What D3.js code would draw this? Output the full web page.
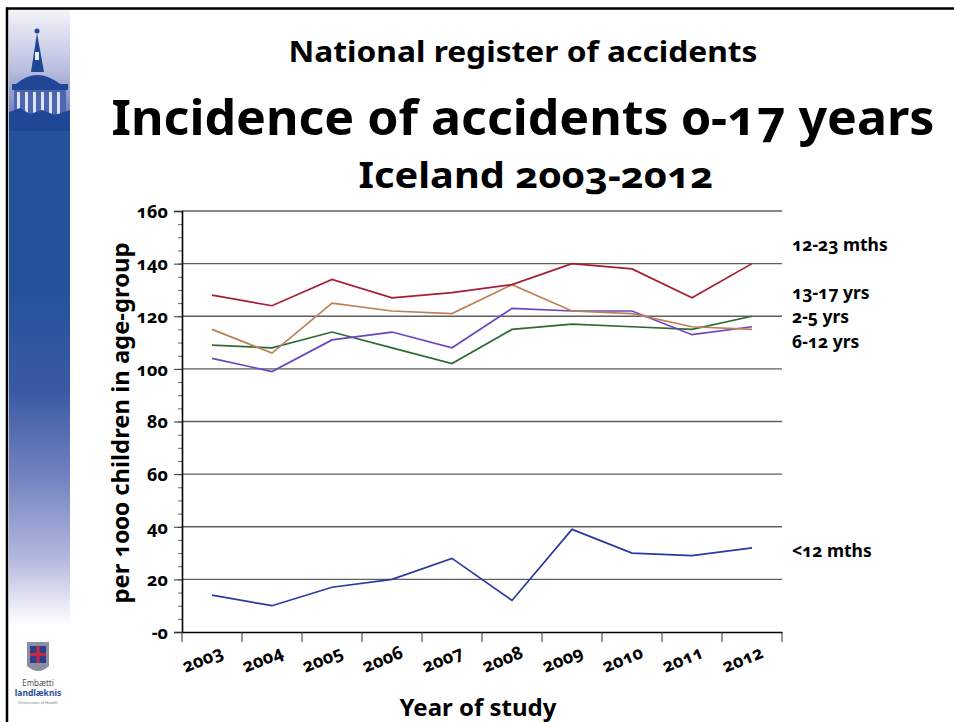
<!DOCTYPE html>
<html><head><meta charset="utf-8">
<script src="https://cdn.jsdelivr.net/npm/d3@7"></script>
<style>
body{margin:0;background:#fff}
svg{display:block}
text{font-family:"Noto Sans",sans-serif;font-weight:bold;font-variant-numeric:oldstyle-nums;font-feature-settings:"onum" 1}
</style>
</head><body>
<svg id="c" width="954" height="722"></svg>
<script>
// ---------- data ----------
const years = ["2003","2004","2005","2006","2007","2008","2009","2010","2011","2012"];
const seriesNames = ["<12 mths","2-5 yrs","6-12 yrs","13-17 yrs","12-23 mths"];
const lt12mths   = [14,10,17,20,28,12,39,30,29,32];
const yrs2to5    = [109,108,114,108,102,115,117,116,115,120];
const yrs6to12   = [104,99,111,114,108,123,122,122,113,116];
const yrs13to17  = [115,106,125,122,121,132,122,121,116,115];
const mths12to23 = [128,124,134,127,129,132,140,138,127,140];
const seriesColors = ["#2B3A9E","#2F6A33","#6A45C0","#BE7F57","#A51E36"];
// value (in chart units) at which each series label sits on the right
const labelAt = [31,119.6,110.2,129,147];
const yTicks = [0,20,40,60,80,100,120,140,160];
const yTickLabels = ["-0","20","40","60","80","100","120","140","160"];
const titleLines = ["National register of accidents","Incidence of accidents 0-17 years","Iceland 2003-2012"];
const xTitle = "Year of study";
const yTitle = "per 1000 children in age-group";

const seriesValues = [lt12mths, yrs2to5, yrs6to12, yrs13to17, mths12to23];

const svg = d3.select("#c");

// ---------- slide decoration ----------
const defs = svg.append("defs");
const g1 = defs.append("linearGradient").attr("id","side").attr("x1",0).attr("y1",0).attr("x2",0).attr("y2",1);
[[0,"#25539a"],[0.3,"#3a5aa3"],[0.55,"#7282c0"],[0.8,"#b3b8de"],[0.95,"#eeeff8"],[1,"#ffffff"]]
  .forEach(s=>g1.append("stop").attr("offset",s[0]).attr("stop-color",s[1]));
const g2 = defs.append("linearGradient").attr("id","sky").attr("x1",0).attr("y1",0).attr("x2",0).attr("y2",1);
[[0,"#f4f4fa"],[0.5,"#b9bee0"],[1,"#5668b0"]].forEach(s=>g2.append("stop").attr("offset",s[0]).attr("stop-color",s[1]));

svg.append("rect").attr("x",9).attr("y",9).attr("width",61).attr("height",122).attr("fill","url(#sky)");
svg.append("rect").attr("x",9).attr("y",130).attr("width",61).attr("height",162).attr("fill","#25539a");
svg.append("rect").attr("x",9).attr("y",291).attr("width",61).attr("height",335).attr("fill","url(#side)");
// building silhouette
const b = svg.append("g").attr("fill","#1f4796");
b.append("circle").attr("cx",37).attr("cy",31).attr("r",2.5);
b.append("polygon").attr("points","37,33 31,72 44,72");
b.append("rect").attr("x",35).attr("y",52).attr("width",4).attr("height",8).attr("fill","#eef0f8");
b.append("path").attr("d","M16,84 Q37,66 60,84 Z");
b.append("rect").attr("x",12).attr("y",84).attr("width",56).attr("height",6);
b.append("rect").attr("x",14).attr("y",90).attr("width",52).attr("height",26).attr("fill","#4d66b0");
[17,25,33,41,49,57].forEach(x=>b.append("rect").attr("x",x).attr("y",92).attr("width",3).attr("height",22).attr("fill","#dfe3f3"));
b.append("path").attr("d","M9,112 L20,108 L30,114 L42,110 L55,115 L70,110 L70,131 L9,131 Z");

// logo bottom
const lg = svg.append("g");
lg.append("path").attr("d","M27,642 L49,642 L49,666 Q38,676 27,666 Z").attr("fill","#8a8fa0");
lg.append("rect").attr("x",30).attr("y",646).attr("width",16).attr("height",17).attr("fill","#2b3e8f");
lg.append("rect").attr("x",36.5).attr("y",646).attr("width",3).attr("height",17).attr("fill","#c8283a");
lg.append("rect").attr("x",30).attr("y",653).attr("width",16).attr("height",3).attr("fill","#c8283a");
lg.append("text").attr("x",38).attr("y",686).attr("text-anchor","middle").attr("font-size",8).style("font-weight","normal").attr("fill","#555").text("Embætti");
lg.append("text").attr("x",38).attr("y",696).attr("text-anchor","middle").attr("font-size",8.5).attr("fill","#2b4b9a").text("landlæknis");
lg.append("text").attr("x",38).attr("y",704).attr("text-anchor","middle").attr("font-size",4).style("font-weight","normal").attr("fill","#777").text("Directorate of Health");

// borders
svg.append("line").attr("x1",7).attr("x2",7).attr("y1",7.5).attr("y2",722).attr("stroke","#000").attr("stroke-width",2.5);
svg.append("line").attr("x1",6).attr("x2",954).attr("y1",8.5).attr("y2",8.5).attr("stroke","#000").attr("stroke-width",2.5);

// ---------- titles ----------
svg.append("text").attr("x",523).attr("y",62).attr("text-anchor","middle").attr("font-size",29)
  .attr("textLength",469).attr("lengthAdjust","spacingAndGlyphs").text(titleLines[0]);
svg.append("text").attr("x",523).attr("y",135).attr("text-anchor","middle").attr("font-size",48)
  .attr("textLength",823).attr("lengthAdjust","spacingAndGlyphs").text(titleLines[1]);
svg.append("text").attr("x",536).attr("y",188).attr("text-anchor","middle").attr("font-size",36)
  .attr("textLength",355).attr("lengthAdjust","spacingAndGlyphs").text(titleLines[2]);

// ---------- chart ----------
const x = d3.scaleBand().domain(years).range([182,782]);
const y = d3.scaleLinear().domain([0,160]).range([632,211]);

// gridlines
svg.append("g").selectAll("line").data(yTicks.filter(v=>v>0)).join("line")
  .attr("x1",182).attr("x2",782).attr("y1",d=>y(d)).attr("y2",d=>y(d))
  .attr("stroke","#5f5f5f").attr("stroke-width",1.3);

// minor ticks
svg.append("g").attr("transform","translate(182,0)")
  .call(d3.axisLeft(y).tickValues(d3.range(0,161,5)).tickSize(4).tickFormat(""))
  .call(g=>g.select(".domain").remove())
  .call(g=>g.selectAll("line").attr("stroke","#666"));

// y axis
const ya = svg.append("g").attr("transform","translate(182,0)")
  .call(d3.axisLeft(y).tickValues(yTicks).tickSize(8).tickPadding(6).tickFormat((d,i)=>yTickLabels[i]));
ya.select(".domain").attr("stroke","#000").attr("stroke-width",1.6);
ya.selectAll("line").attr("stroke","#333");
ya.selectAll("text").attr("font-size",18).attr("fill","#000").style("font-family","'Noto Sans'").attr("dy","0.35em");

// x axis
const xa = svg.append("g").attr("transform","translate(0,632)")
  .call(d3.axisBottom(x).tickSize(0).tickFormat(""));
xa.select(".domain").attr("stroke","#000").attr("stroke-width",1.6);
svg.append("g").selectAll("line").data(years.concat(["end"])).join("line")
  .attr("x1",(d,i)=>i<years.length?x(d):x.range()[1]).attr("x2",(d,i)=>i<years.length?x(d):x.range()[1])
  .attr("y1",632).attr("y2",642).attr("stroke","#333").attr("stroke-width",1);
svg.append("g").selectAll("text").data(years).join("text")
  .attr("transform",d=>`translate(${x(d)+x.bandwidth()/2-7},${665}) rotate(-22)`)
  .attr("text-anchor","middle").attr("font-size",18).text(d=>d);

// lines
const line = d3.line().x((d,i)=>x(years[i])+x.bandwidth()/2).y(d=>y(d));
svg.append("g").selectAll("path").data(seriesValues).join("path")
  .attr("d",d=>line(d)).attr("fill","none")
  .attr("stroke",(d,i)=>seriesColors[i]).attr("stroke-width",1.7);

// series labels
svg.append("g").selectAll("text").data(seriesNames).join("text")
  .attr("x",792).attr("y",(d,i)=>y(labelAt[i])).attr("dy","0.35em")
  .attr("font-size",17.5).attr("fill","#000").text(d=>d);

// axis titles
svg.append("text").attr("x",478).attr("y",716).attr("text-anchor","middle").attr("font-size",24)
  .attr("textLength",157).attr("lengthAdjust","spacingAndGlyphs").text(xTitle);
svg.append("text").attr("transform","translate(129,423) rotate(-90)").attr("text-anchor","middle").attr("font-size",24)
  .attr("textLength",361).attr("lengthAdjust","spacingAndGlyphs").text(yTitle);
</script>
</body></html>
